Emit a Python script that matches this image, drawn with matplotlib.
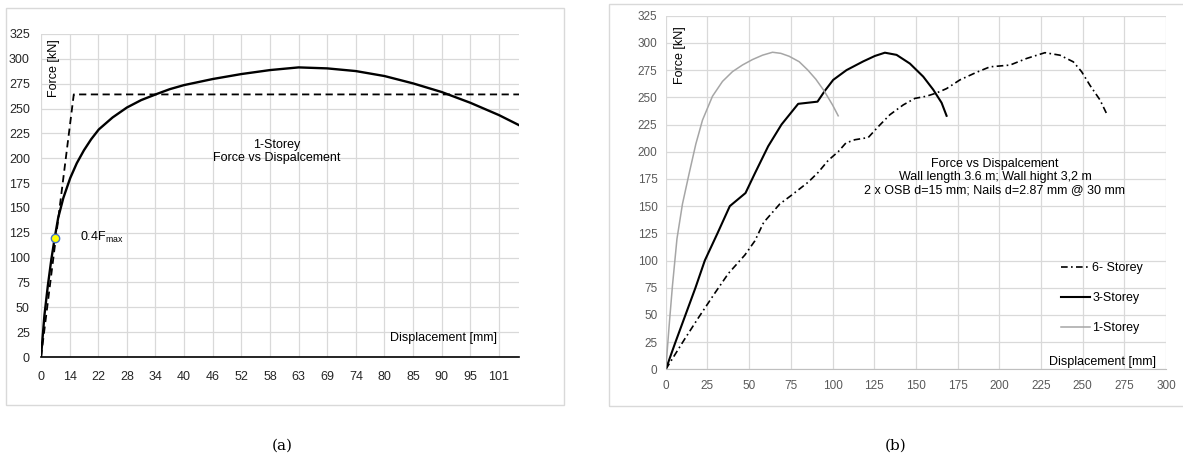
import matplotlib
matplotlib.use('Agg')
import matplotlib.pyplot as plt
from matplotlib.patches import Rectangle

plt.rcParams['font.family'] = ['Liberation Sans', 'DejaVu Sans']

# ---- panel (a): 1-storey curve on a category axis ----
a_tick_labels = ['0', '14', '22', '28', '34', '40', '46', '52', '58',
                 '63', '69', '74', '80', '85', '90', '95', '101']
a_curve_pos = [0, 0.12, 0.24, 0.36, 0.48, 0.6, 0.78, 1.02, 1.25, 1.5, 1.75, 2.02,
               2.5, 3.0, 3.5, 4.04, 4.5, 5, 6, 7, 8, 9, 10, 11, 12, 13, 14, 15,
               16, 16.7]
a_curve_force = [0, 42, 72, 98, 120, 140, 160, 180, 195, 208, 219, 229,
                 241, 251, 258.5, 264.6, 269.5, 273.6, 279.7, 284.7, 288.7, 291.4,
                 290.4, 287.7, 282.7, 275.3, 266.6, 255.8, 243.4, 233.3]
a_bilinear_pos = [0, 1.145, 16.7]
a_bilinear_force = [0, 264.2, 264.2]
a_point_pos = [0.48]
a_point_force = [120]

# ---- panel (b): three curves ----
s1_disp = [0, 2, 4, 6.7, 10, 14, 18, 22, 28, 34, 40, 46, 52, 58, 64, 69, 74,
           80, 85, 90, 95, 100, 103.4]
s1_force = [0, 40, 77, 120, 152, 180, 207, 229, 251, 264.6, 273.6, 279.7, 284.7,
            288.7, 291.4, 290.4, 287.7, 282.7, 275.3, 266.6, 255.8, 243, 233]
s3_disp = [0, 5.8, 17.8, 23.4, 31, 38.4, 47.8, 53.4, 61.4, 69.4, 79.4, 91, 95.4,
           100.4, 108.4, 118.4, 125.4, 131.4, 138.4, 146.4, 154.4, 160.4, 165.4, 168.4]
s3_force = [0, 25, 75, 100, 125, 150, 162, 180, 205, 225, 244, 246, 256, 266,
            275, 283, 288, 291, 289, 281, 269, 257, 245, 233]
s6_disp = [0, 11.4, 19.4, 29.4, 37.5, 47.4, 53.4, 58.7, 68.4, 75.4, 85.4, 91.4,
           97.4, 103.4, 108, 113.4, 121.4, 127.4, 134.4, 142.4, 149.4, 156.4,
           162.4, 168.4, 176.4, 186.4, 194.4, 206.4, 216.4, 227.4, 236.4, 244.4,
           249.4, 254.4, 260.4, 265]
s6_force = [0, 28, 47, 70, 88, 105, 118, 135, 152, 160, 172, 181, 192, 200, 208,
            211, 213, 223, 234, 243, 249, 251, 254, 258, 266, 273, 278, 279.6,
            285.7, 291, 288.7, 282.6, 273.5, 261, 247.6, 233]

y_ticks = list(range(0, 326, 25))
b_x_ticks = list(range(0, 301, 25))

W, H = 1183, 459
fig = plt.figure(figsize=(W / 100, H / 100), dpi=100)

# light grey frames around each panel
fig.add_artist(Rectangle((6 / W, 1 - 405 / H), 558 / W, 397.5 / H, transform=fig.transFigure,
                         fill=False, edgecolor='#d9d9d9', linewidth=1))
fig.add_artist(Rectangle((609 / W, 1 - 406 / H), 590 / W, 402 / H, transform=fig.transFigure,
                         fill=False, edgecolor='#d9d9d9', linewidth=1))

grid = '#d9d9d9'

# panel (a)
ax1 = fig.add_axes([41 / W, 1 - 357 / H, 478 / W, 323 / H])
ax1.plot(a_curve_pos, a_curve_force, color='black', linewidth=1.7, zorder=3)
ax1.plot(a_bilinear_pos, a_bilinear_force, color='black', linewidth=1.3,
         linestyle=(0, (4, 2.5)), zorder=3)
ax1.plot(a_point_pos, a_point_force, 'o', markersize=6, markerfacecolor='#ffff00',
         markeredgecolor='#4472c4', markeredgewidth=1, zorder=4)
ax1.set_xlim(0, 16.7)
ax1.set_ylim(0, 325)
ax1.set_xticks(range(len(a_tick_labels)))
ax1.set_xticklabels(a_tick_labels)
ax1.set_yticks(y_ticks)
ax1.tick_params(length=0, labelsize=9, colors='#262626')
ax1.tick_params(axis='x', pad=10)
ax1.tick_params(axis='y', pad=8)
ax1.grid(True, color=grid, linewidth=0.9)
ax1.set_axisbelow(True)
for s in ['top', 'right', 'left']:
    ax1.spines[s].set_visible(False)
ax1.spines['bottom'].set_color('black')
ax1.spines['bottom'].set_linewidth(1.2)
ax1.text(0.027, 0.895, 'Force [kN]', transform=ax1.transAxes, rotation=90,
         ha='center', va='center', fontsize=9)
ax1.text(0.494, 0.636, '1-Storey\nForce vs Dispalcement', transform=ax1.transAxes,
         ha='center', va='center', fontsize=9, linespacing=1.2)
ax1.text(1.36, 120, r'0.4F$\mathregular{_{max}}$', ha='left', va='center', fontsize=9)
ax1.text(0.955, 0.06, 'Displacement [mm]', transform=ax1.transAxes,
         ha='right', va='center', fontsize=9)

# panel (b)
ax2 = fig.add_axes([665.8 / W, 1 - 369.3 / H, 500.2 / W, 353.6 / H])
ax2.plot(s6_disp, s6_force, color='black', linewidth=1.2,
         linestyle=(0, (4, 2, 1, 2)), label='6- Storey')
ax2.plot(s3_disp, s3_force, color='black', linewidth=1.5, label='3-Storey')
ax2.plot(s1_disp, s1_force, color='#a6a6a6', linewidth=1.1, label='1-Storey')
ax2.set_xlim(0, 300)
ax2.set_ylim(0, 325)
ax2.set_xticks(b_x_ticks)
ax2.set_yticks(y_ticks)
ax2.tick_params(length=0, labelsize=8.5, colors='#595959')
ax2.tick_params(axis='x', pad=8)
ax2.tick_params(axis='y', pad=6)
ax2.grid(True, color=grid, linewidth=0.9)
ax2.set_axisbelow(True)
for s in ['top', 'right', 'left']:
    ax2.spines[s].set_visible(False)
ax2.spines['bottom'].set_color('#bfbfbf')
ax2.text(0.028, 0.889, 'Force [kN]', transform=ax2.transAxes, rotation=90,
         ha='center', va='center', fontsize=9)
ax2.text(0.658, 0.544, 'Force vs Dispalcement\nWall length 3.6 m; Wall hight 3,2 m\n'
         '2 x OSB d=15 mm; Nails d=2.87 mm @ 30 mm', transform=ax2.transAxes,
         ha='center', va='center', fontsize=9, linespacing=1.15)
ax2.text(0.98, 0.0215, 'Displacement [mm]', transform=ax2.transAxes,
         ha='right', va='center', fontsize=9)
ax2.legend(loc='center left', bbox_to_anchor=(0.79, 0.2016), frameon=False,
           fontsize=9, labelspacing=1.45, handlelength=2.3, handletextpad=0.2,
           borderpad=0, borderaxespad=0)

# captions
fig.text(282 / W, 1 - 446 / H, '(a)', ha='center', va='center', fontsize=11,
         family='DejaVu Serif')
fig.text(896 / W, 1 - 446 / H, '(b)', ha='center', va='center', fontsize=11,
         family='DejaVu Serif')

fig.savefig('out.png', dpi=100)
